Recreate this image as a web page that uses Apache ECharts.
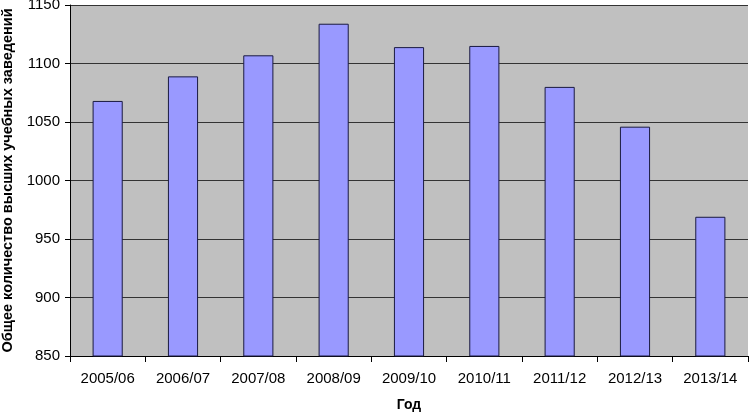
<!DOCTYPE html>
<html><head><meta charset="utf-8">
<script src="https://cdn.jsdelivr.net/npm/echarts@6/dist/echarts.min.js"></script>
<style>html,body{margin:0;padding:0;background:#fff}#c{width:749px;height:413px}</style>
</head><body><div id="c"></div>
<script>
const categories = ['2005/06','2006/07','2007/08','2008/09','2009/10','2010/11','2011/12','2012/13','2013/14'];
const values = [1068, 1089, 1107, 1134, 1114, 1115, 1080, 1046, 969];
const yTicks = [850, 900, 950, 1000, 1050, 1100, 1150];
const chart = echarts.init(document.getElementById('c'), null, {renderer:'canvas'});
chart.setOption({
  animation: false,
  textStyle: {fontFamily: 'Liberation Sans, Arial, sans-serif'},
  grid: {left: 70, right: 1, top: 5, bottom: 57, show: true, backgroundColor: '#c0c0c0', borderWidth: 0,
         containLabel: false, outerBoundsMode: 'none'},
  xAxis: {
    type: 'category', data: categories,
    name: 'Год', nameLocation: 'middle', nameGap: 42,
    nameTextStyle: {fontWeight: 'bold', fontSize: 14, color: '#000'},
    axisLine: {lineStyle: {color: '#000', width: 1}},
    axisTick: {show: true, alignWithLabel: false, length: 6, lineStyle: {color: '#000'}},
    axisLabel: {color: '#000', fontSize: 15, margin: 15}
  },
  yAxis: {
    type: 'value', min: yTicks[0], max: yTicks[yTicks.length-1], interval: 50,
    name: 'Общее количество высших учебных заведений', nameLocation: 'middle', nameGap: 55,
    nameTextStyle: {fontWeight: 'bold', fontSize: 14.5, color: '#000'},
    axisLine: {show: true, lineStyle: {color: '#000', width: 1}},
    axisTick: {show: true, length: 5, lineStyle: {color: '#000'}},
    axisLabel: {color: '#000', fontSize: 15, margin: 10, formatter: v => String(v)},
    splitLine: {show: true, lineStyle: {color: '#333', width: 1}}
  },
  series: [{
    type: 'bar', data: values, barWidth: '40%',
    itemStyle: {color: '#9999ff', borderColor: '#1a1a40', borderWidth: 1}
  }]
});
</script></body></html>
